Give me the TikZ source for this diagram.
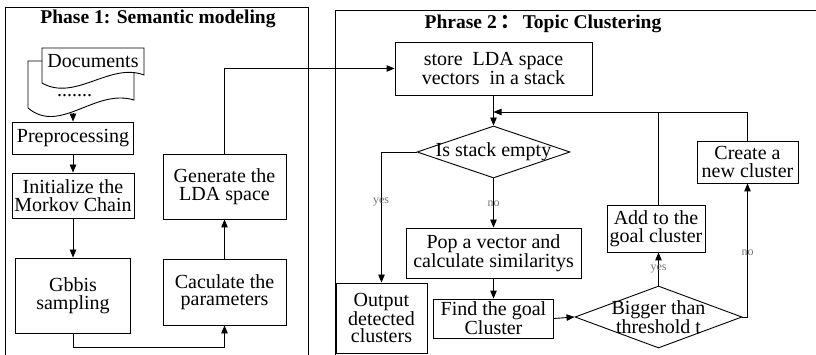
\documentclass[tikz,border=0pt]{standalone}
\usepackage{fontspec}
\setmainfont{Liberation Serif}
\newfontfamily\cjkfont{Noto Sans CJK SC}
\usetikzlibrary{arrows.meta,shapes.geometric}
\begin{document}
\begin{tikzpicture}[x=1pt,y=-1pt,
  every node/.style={font=\fontsize{20}{17.5}\selectfont},
  box/.style={draw,line width=0.9pt,inner sep=0pt,align=center,fill=white},
  txt/.style={align=center,inner sep=0pt},
  arr/.style={-{Triangle[length=8pt,width=6.5pt]},line width=0.9pt},
  ln/.style={line width=0.9pt},
  lab/.style={font=\fontsize{12}{12}\selectfont,text=black!55,inner sep=1pt},
  ttl/.style={font=\fontsize{19.5}{19.5}\selectfont\bfseries},
  dia/.style={draw,diamond,line width=0.9pt,inner sep=0pt}]
\useasboundingbox (0,0) rectangle (816,355);

% frames
\draw[ln] (5,358) -- (5,7) -- (308,7) -- (308,358);
\draw[ln] (335,358) -- (335,10) -- (818,10);
\node[ttl] (t1) at (158,19) {Phase 1: Semantic modeling};
\node[ttl] (t2) at (543,24) {Phrase 2\,{\cjkfont ：}\,Topic Clustering};

% documents
\draw[ln,fill=white] (28,61) -- (134,61) -- (134,100) .. controls (95,88) and (60,135) .. (28,108) -- cycle;
\draw[ln,fill=white] (42,48) -- (144,48) -- (144,75) .. controls (110,62) and (75,102) .. (42,83) -- cycle;
\node (docs) at (93,61) {Documents};
\node[anchor=base] (dots) at (74.5,97) {.......};
\coordinate (docb) at (73,113);

% phase 1 boxes
\node[box,minimum width=121pt,minimum height=32pt] (prep) at (73,138) {Preprocessing};
\node[box,minimum width=122pt,minimum height=45pt] (init) at (73,195.5) {Initialize the\\Morkov Chain};
\node[box,minimum width=115pt,minimum height=75pt] (gibbs) at (73,295.5) {Gbbis\\sampling};
\node[box,minimum width=123pt,minimum height=66pt] (calc) at (224.5,292) {Caculate the\\parameters};
\node[box,minimum width=123pt,minimum height=65pt] (gen) at (224.5,186.5) {Generate the\\LDA space};

% phase 2 boxes
\node[box,minimum width=197pt,minimum height=53pt] (store) at (493.5,68.5) {store\ \ LDA space\\vectors\ \ in a stack};
\node[dia,minimum width=153pt,minimum height=52pt] (d1) at (493.5,152) {};
\node[txt] (d1t) at (d1.center) {Is stack empty};
\node[box,minimum width=91pt,minimum height=70pt] (out) at (381.5,318) {Output\\detected\\clusters};
\node[box,minimum width=175pt,minimum height=50pt] (pop) at (493.5,253) {Pop a vector and\\calculate similaritys};
\node[box,minimum width=120pt,minimum height=39pt] (find) at (493.5,318.5) {Find the goal\\Cluster};
\node[dia,minimum width=167pt,minimum height=62pt] (d2) at (658.5,317) {};
\node[txt] (d2t) at (d2.center) {Bigger than\\threshold t};
\node[box,minimum width=98pt,minimum height=47pt] (add) at (656,228.5) {Add to the\\goal cluster};
\node[box,minimum width=101pt,minimum height=42pt] (create) at (747.5,162) {Create a\\new cluster};
\coordinate (j) at (493.5,112);

% phase 1 connectors
\draw[arr] (docb) -- (prep.north);
\draw[arr] (prep.south) -- (init.north);
\draw[arr] (init.south) -- (gibbs.north);
\draw[arr] (gibbs.south) -- ++(0,14) -| (calc.south);
\draw[arr] (calc.north) -- (gen.south);
\draw[arr] (gen.north) |- (store.west);

% phase 2 connectors
\draw[arr] (store.south) -- (d1.north);
\draw[arr] (create.north) |- (j);
\draw[ln] (d2.north |- add.north) -- (d2.north |- j);
\draw[arr] (d1.west) -| (out.north);
\node[lab] (y1) at (381,202) {yes};
\draw[arr] (d1.south) -- (pop.north);
\node[lab] (n1) at (493.5,204) {no};
\draw[arr] (pop.south) -- (find.north);
\draw[arr] (find.east) -- (d2.west);
\draw[arr] (d2.north) -- (d2.north |- add.south);
\node[lab] (y2) at (658.5,269) {yes};
\draw[arr] (d2.east) -| (create.south);
\node[lab] (n2) at (747.5,253) {no};
\end{tikzpicture}
\end{document}
